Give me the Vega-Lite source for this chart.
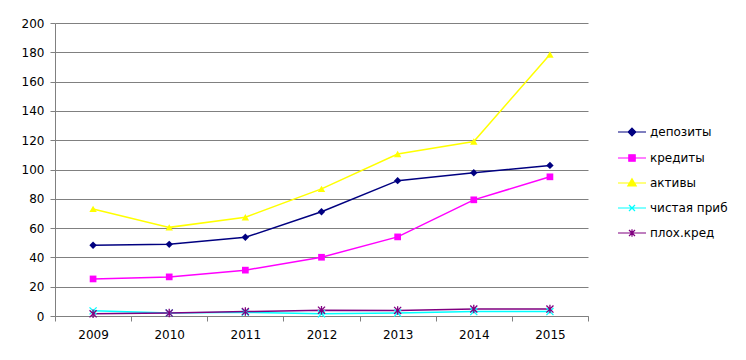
{
  "$schema": "https://vega.github.io/schema/vega-lite/v6.json",
  "width": 533,
  "height": 293,
  "autosize": {"type": "none"},
  "padding": {"left": 55, "top": 23, "right": 158, "bottom": 44},
  "background": "white",
  "config": {
    "view": {"stroke": null},
    "font": "DejaVu Sans"
  },
  "data": {
    "values": [
      {"year": "2009", "series": "депозиты", "value": 48.3},
      {"year": "2010", "series": "депозиты", "value": 48.9},
      {"year": "2011", "series": "депозиты", "value": 53.7},
      {"year": "2012", "series": "депозиты", "value": 71.2},
      {"year": "2013", "series": "депозиты", "value": 92.4},
      {"year": "2014", "series": "депозиты", "value": 97.8},
      {"year": "2015", "series": "депозиты", "value": 102.8},
      {"year": "2009", "series": "кредиты", "value": 25.3},
      {"year": "2010", "series": "кредиты", "value": 26.7},
      {"year": "2011", "series": "кредиты", "value": 31.3},
      {"year": "2012", "series": "кредиты", "value": 40.1},
      {"year": "2013", "series": "кредиты", "value": 54.0},
      {"year": "2014", "series": "кредиты", "value": 79.3},
      {"year": "2015", "series": "кредиты", "value": 95.0},
      {"year": "2009", "series": "активы", "value": 73.1},
      {"year": "2010", "series": "активы", "value": 60.5},
      {"year": "2011", "series": "активы", "value": 67.4},
      {"year": "2012", "series": "активы", "value": 86.8},
      {"year": "2013", "series": "активы", "value": 110.6},
      {"year": "2014", "series": "активы", "value": 119.1},
      {"year": "2015", "series": "активы", "value": 178.5},
      {"year": "2009", "series": "чистая приб", "value": 3.5},
      {"year": "2010", "series": "чистая приб", "value": 2.0},
      {"year": "2011", "series": "чистая приб", "value": 2.5},
      {"year": "2012", "series": "чистая приб", "value": 1.5},
      {"year": "2013", "series": "чистая приб", "value": 2.0},
      {"year": "2014", "series": "чистая приб", "value": 3.0},
      {"year": "2015", "series": "чистая приб", "value": 3.0},
      {"year": "2009", "series": "плох.кред", "value": 1.5},
      {"year": "2010", "series": "плох.кред", "value": 2.0},
      {"year": "2011", "series": "плох.кред", "value": 3.0},
      {"year": "2012", "series": "плох.кред", "value": 4.0},
      {"year": "2013", "series": "плох.кред", "value": 3.8},
      {"year": "2014", "series": "плох.кред", "value": 4.8},
      {"year": "2015", "series": "плох.кред", "value": 4.7}
    ]
  },
  "encoding": {
    "x": {
      "field": "year",
      "type": "ordinal",
      "sort": null,
      "scale": {"type": "band", "paddingInner": 0, "paddingOuter": 0},
      "axis": {
        "title": null,
        "labelAngle": 0,
        "tickBand": "extent",
        "domainColor": "#808080",
        "tickColor": "#808080",
        "tickSize": 5,
        "labelFont": "DejaVu Sans",
        "labelFontSize": 12,
        "labelColor": "#000000",
        "labelPadding": 8,
        "grid": false
      }
    },
    "y": {
      "field": "value",
      "type": "quantitative",
      "scale": {"domain": [0, 200], "nice": false},
      "axis": {
        "title": null,
        "values": [0, 20, 40, 60, 80, 100, 120, 140, 160, 180, 200],
        "grid": true,
        "gridColor": "#808080",
        "gridOpacity": 1,
        "domainColor": "#808080",
        "tickColor": "#808080",
        "tickSize": 5,
        "labelFont": "DejaVu Sans",
        "labelFontSize": 12,
        "labelColor": "#000000",
        "labelPadding": 6
      }
    },
    "color": {
      "field": "series",
      "type": "nominal",
      "scale": {
        "domain": ["депозиты", "кредиты", "активы", "чистая приб", "плох.кред"],
        "range": ["#000080", "#FF00FF", "#FFFF00", "#00FFFF", "#800080"]
      },
      "legend": {
        "title": null,
        "orient": "none",
        "legendX": 566,
        "legendY": 98,
        "padding": 0,
        "symbolSize": 400,
        "rowPadding": 8,
        "labelOffset": 7,
        "labelFont": "DejaVu Sans",
        "labelFontSize": 12,
        "labelColor": "#000000",
        "symbolStrokeWidth": 1.2,
        "encode": {
          "symbols": {
            "update": {
              "shape": {"signal": "datum.value === 'депозиты' ? 'M-1.4,0H1.4M0,-0.38L0.38,0L0,0.38L-0.38,0Z' : datum.value === 'кредиты' ? 'M-1.4,0H1.4M-0.32,-0.32H0.32V0.32H-0.32Z' : datum.value === 'активы' ? 'M-1.4,0H1.4M0,-0.42L0.42,0.3H-0.42Z' : datum.value === 'чистая приб' ? 'M-1.4,0H1.4M-0.3,-0.3L0.3,0.3M-0.3,0.3L0.3,-0.3' : 'M-1.4,0H1.4M-0.3,-0.3L0.3,0.3M-0.3,0.3L0.3,-0.3M0,-0.38V0.38'"},
              "fill": {"signal": "{'депозиты':'#000080','кредиты':'#FF00FF','активы':'#FFFF00','чистая приб':'#00FFFF','плох.кред':'#800080'}[datum.value]"},
              "stroke": {"signal": "{'депозиты':'#000080','кредиты':'#FF00FF','активы':'#FFFF00','чистая приб':'#00FFFF','плох.кред':'#800080'}[datum.value]"},
              "strokeWidth": {"value": 1.2},
              "opacity": {"value": 1}
            }
          }
        }
      }
    }
  },
  "layer": [
    {
      "mark": {"type": "line", "strokeWidth": 1.5},
      "encoding": {"detail": {"field": "series"}}
    },
    {
      "transform": [{"filter": "datum.series === 'депозиты'"}],
      "mark": {"type": "point", "filled": true, "size": 55, "opacity": 1, "shape": "diamond"}
    },
    {
      "transform": [{"filter": "datum.series === 'кредиты'"}],
      "mark": {"type": "point", "filled": true, "size": 45, "opacity": 1, "shape": "square"}
    },
    {
      "transform": [{"filter": "datum.series === 'активы'"}],
      "mark": {"type": "point", "filled": true, "size": 55, "opacity": 1, "shape": "triangle-up"}
    },
    {
      "transform": [{"filter": "datum.series === 'чистая приб'"}],
      "mark": {"type": "point", "filled": false, "size": 50, "strokeWidth": 1.3, "opacity": 1, "shape": "M-1,-1L1,1M-1,1L1,-1"}
    },
    {
      "transform": [{"filter": "datum.series === 'плох.кред'"}],
      "mark": {"type": "point", "filled": false, "size": 50, "strokeWidth": 1.3, "opacity": 1, "shape": "M-1,-1L1,1M-1,1L1,-1M0,-1.2V1.2"}
    }
  ]
}
